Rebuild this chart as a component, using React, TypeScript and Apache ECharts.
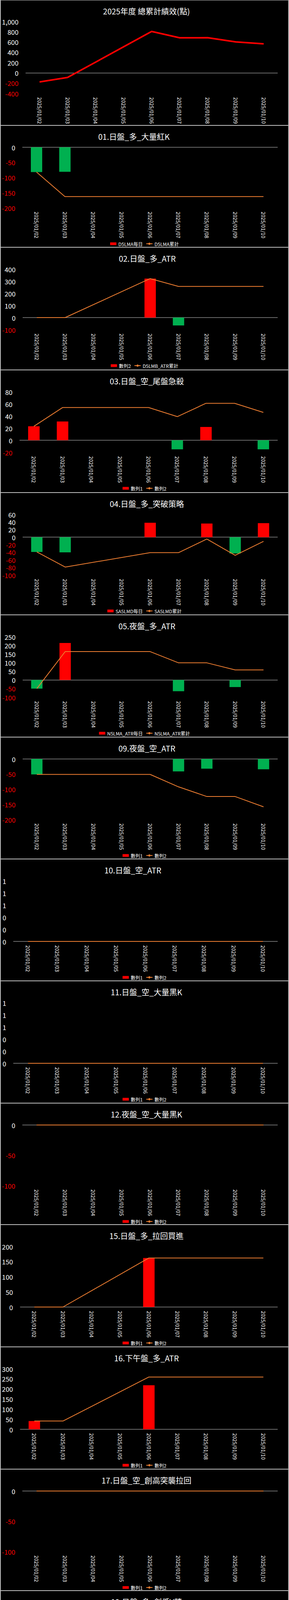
import * as echarts from "echarts";
import { useEffect, useRef } from "react";

const FONT = "'Noto Sans CJK TC', 'Noto Sans', sans-serif";

const dates = [
  "2025/01/02",
  "2025/01/03",
  "2025/01/04",
  "2025/01/05",
  "2025/01/06",
  "2025/01/07",
  "2025/01/08",
  "2025/01/09",
  "2025/01/10",
];

// 總累計
const totalLine = [-177, -90, null, null, 806, 682, 684, 602, 565];

// 每日 / 累計
const s01Bar = [-82, -81, null, null, null, null, null, null, null];
const s01Line = [-82, -163, null, null, -163, -163, -163, -163, -163];
const s02Bar = [null, null, null, null, 322, -65, null, null, null];
const s02Line = [0, 0, null, null, 322, 257, 257, 257, 257];
const s03Bar = [23, 31, null, null, null, -15, 22, null, -15];
const s03Line = [23, 54, null, null, 54, 39, 61, 61, 46];
const s04Bar = [-39, -40, null, null, 38, null, 36, -43, 37];
const s04Line = [-39, -79, null, null, -41, -41, -5, -48, -11];
const s05Bar = [-50, 214, null, null, null, -65, null, -41, null];
const s05Line = [-50, 164, null, null, 164, 99, 99, 58, 58];
const s09Bar = [-51, null, null, null, null, -41, -32, null, -34];
const s09Line = [-51, -51, null, null, -51, -92, -124, -124, -158];
const s15Bar = [null, null, null, null, 162, null, null, null, null];
const s15Line = [0, 0, null, null, 162, 162, 162, 162, 162];
const s16Bar = [41, null, null, null, 218, null, null, null, null];
const s16Line = [41, 41, null, null, 259, 259, 259, 259, 259];
const s20Bar = [null, null, null, null, 152, 49, null, null, -37];
const s20Line = [0, 0, null, null, 152, 201, 201, 201, 164];
const emptyBar = [null, null, null, null, null, null, null, null, null];
const flatLine = [0, 0, null, null, 0, 0, 0, 0, 0];

// 各圖框的分隔線位置
const edges = [0, 321, 633, 947, 1261, 1574, 1887, 2199, 2511, 2824, 3135, 3448, 3761, 4072, 4384, 4696, 5009, 5322];

const panels: any[] = [
  { total: true, title: "2025年度 總累計績效(點)", titleX: 370, line: totalLine, min: -400, max: 1000, interval: 200, left: 64 },
  { title: "01.日盤_多_大量紅K", titleX: 338, barName: "D5LMA每日", lineName: "D5LMA累計", bars: s01Bar, line: s01Line, min: -200, max: 0, interval: 50, left: 57 },
  { title: "02.日盤_多_ATR", titleX: 372, barName: "數列2", lineName: "D5LMB_ATR累計", bars: s02Bar, line: s02Line, min: -100, max: 400, interval: 100, left: 58 },
  { title: "03.日盤_空_尾盤急殺", titleX: 371, barName: "數列1", lineName: "數列2", bars: s03Bar, line: s03Line, min: -20, max: 80, interval: 20, left: 50 },
  { title: "04.日盤_多_突破策略", titleX: 371, barName: "SA5LMD每日", lineName: "SA5LMD累計", bars: s04Bar, line: s04Line, min: -100, max: 60, interval: 20, left: 58 },
  { title: "05.夜盤_多_ATR", titleX: 371, barName: "N5LMA_ATR每日", lineName: "N5LMA_ATR累計", bars: s05Bar, line: s05Line, min: -100, max: 250, interval: 50, left: 58 },
  { title: "09.夜盤_空_ATR", titleX: 371, barName: "數列1", lineName: "數列2", bars: s09Bar, line: s09Line, min: -200, max: 0, interval: 50, left: 58 },
  { title: "10.日盤_空_ATR", titleX: 335, barName: "數列1", lineName: "數列2", bars: emptyBar, line: flatLine, min: 0, max: 1, interval: 0.2, left: 34, round: true },
  { title: "11.日盤_空_大量黑K", titleX: 370, barName: "數列1", lineName: "數列2", bars: emptyBar, line: flatLine, min: 0, max: 1, interval: 0.2, left: 34, round: true },
  { title: "12.夜盤_空_大量黑K", titleX: 370, barName: "數列1", lineName: "數列2", bars: emptyBar, line: flatLine, min: -100, max: 0, interval: 50, left: 57 },
  { title: "15.日盤_多_拉回買進", titleX: 370, barName: "數列1", lineName: "數列2", bars: s15Bar, line: s15Line, min: 0, max: 200, interval: 50, left: 50 },
  { title: "16.下午盤_多_ATR", titleX: 370, barName: "數列1", lineName: "數列2", bars: s16Bar, line: s16Line, min: 0, max: 300, interval: 50, left: 50 },
  { title: "17.日盤_空_創高突襲拉回", titleX: 370, barName: "數列1", lineName: "數列2", bars: emptyBar, line: flatLine, min: -100, max: 0, interval: 50, left: 57 },
  { title: "19.日盤_多_創低V轉", titleX: 370, barName: "數列1", lineName: "數列2", bars: emptyBar, line: flatLine, min: -100, max: 0, interval: 50, left: 57 },
  { title: "20.午盤_多_默默偷上漲", titleX: 370, barName: "數列1", lineName: "數列2", bars: s20Bar, line: s20Line, min: -50, max: 250, interval: 50, left: 50 },
  { title: "21.夜盤_空_轉折向下", titleX: 370, barName: "數列1", lineName: "數列2", bars: emptyBar, line: flatLine, min: -100, max: 0, interval: 50, left: 57, blue: true },
  { title: "22.夜盤_多_大量紅K", titleX: 370, barName: "數列1", lineName: "數列2", bars: emptyBar, line: flatLine, min: -100, max: 0, interval: 50, left: 57, blue: true },
];

const buildOption = (cfg: any) => {
  // 只在 0 的位置畫灰線
  const count = Math.round((cfg.max - cfg.min) / cfg.interval) + 1;
  const zeroIdx = Math.round((0 - cfg.min) / cfg.interval);
  const splitColors = Array.from({ length: count }, (_, i) =>
    i === zeroIdx ? "#8c8c8c" : "rgba(0,0,0,0)"
  );

  const series: any[] = [];
  if (!cfg.total) {
    series.push({
      name: cfg.barName,
      type: "bar",
      barWidth: "40%",
      color: cfg.blue ? "#5b9bd5" : "#ff0000",
      data: cfg.bars.map((v: number | null) =>
        v == null ? null : v < 0 ? { value: v, itemStyle: { color: "#00b050" } } : v
      ),
    });
  }
  series.push({
    name: cfg.total ? "總累計" : cfg.lineName,
    type: "line",
    symbol: "none",
    connectNulls: true,
    color: cfg.total ? "#ff0000" : "#ed7d31",
    lineStyle: { width: cfg.total ? 4 : 2 },
    data: cfg.line,
  });

  return {
    animation: false,
    backgroundColor: "#000",
    textStyle: { fontFamily: FONT },
    title: {
      text: cfg.title,
      left: cfg.titleX - 2,
      textAlign: "center",
      top: 12,
      textStyle: { color: "#fff", fontSize: 20, fontWeight: "normal", fontFamily: FONT },
    },
    legend: cfg.total
      ? { show: false }
      : {
          top: 291,
          left: "center",
          itemWidth: 16,
          itemHeight: 7,
          itemGap: 8,
          textStyle: { color: "#fff", fontSize: 12, fontFamily: FONT },
          data: [{ name: cfg.barName, icon: "rect" }, { name: cfg.lineName }],
        },
    grid: {
      left: cfg.left - 2,
      right: 27,
      top: cfg.total ? 54 : 55,
      height: cfg.total ? 187 : 155,
    },
    xAxis: {
      type: "category",
      data: dates,
      boundaryGap: true,
      axisLine: { show: false },
      axisTick: { show: false },
      axisLabel: { rotate: -90, color: "#fff", fontSize: 13, margin: 10, fontFamily: FONT },
    },
    yAxis: {
      type: "value",
      min: cfg.min,
      max: cfg.max,
      interval: cfg.interval,
      axisLine: { show: false },
      axisTick: { show: false },
      splitLine: { show: true, lineStyle: { color: splitColors, width: 1.5 } },
      axisLabel: {
        fontSize: 17,
        margin: 18,
        fontFamily: FONT,
        color: (v: any) => (parseFloat(v) < 0 ? "#ff0000" : "#ffffff"),
        formatter: (v: number) =>
          cfg.round ? String(Math.round(v)) : cfg.total ? v.toLocaleString("en-US") : String(v),
      },
    },
    series,
  };
};

const Panel = ({ cfg, top, height }: { cfg: any; top: number; height: number }) => {
  const chartRef = useRef<HTMLDivElement | null>(null);

  useEffect(() => {
    const chart = echarts.init(chartRef.current!, null, { renderer: "svg" });
    chart.setOption(buildOption(cfg));
    return () => {
      chart.dispose();
    };
  }, [cfg]);

  return (
    <div
      ref={chartRef}
      style={{ position: "absolute", left: 2, top, width: 736, height, background: "#000" }}
    />
  );
};

const App = () => {
  return (
    <div
      style={{
        position: "absolute",
        left: 0,
        top: 0,
        width: 740,
        height: 5323,
        background: "#bfbfbf",
      }}
    >
      {panels.map((cfg, i) => (
        <Panel key={i} cfg={cfg} top={edges[i] + 1} height={edges[i + 1] - edges[i] - 2} />
      ))}
    </div>
  );
};

export default App;
